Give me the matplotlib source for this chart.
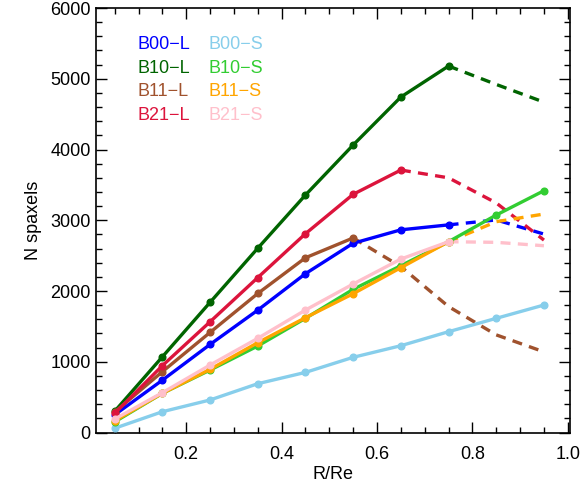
import numpy as np
import matplotlib.pyplot as plt
from matplotlib.ticker import MultipleLocator

plt.rcParams['font.family'] = ['Liberation Sans', 'DejaVu Sans']

# radial bins
r_bins = [0.05, 0.15, 0.25, 0.35, 0.45, 0.55, 0.65, 0.75, 0.85, 0.95]

# N spaxels per bin; solid part then dashed tail
b00_l = [250, 740, 1245, 1730, 2245, 2675, 2865, 2935, 3005, 2805]
b10_l = [300, 1070, 1840, 2605, 3357, 4064, 4742, 5180, 4920, 4670]
b11_l = [290, 860, 1415, 1965, 2470, 2750, 2345, 1780, 1380, 1140]
b21_l = [270, 945, 1565, 2190, 2810, 3367, 3710, 3600, 3245, 2720]
b00_s = [60, 294, 460, 690, 850, 1063, 1227, 1425, 1614, 1802]
b10_s = [150, 554, 883, 1223, 1614, 2024, 2358, 2697, 3074, 3418]
b11_s = [165, 554, 893, 1270, 1623, 1962, 2330, 2697, 2980, 3088]
b21_s = [190, 563, 954, 1331, 1731, 2099, 2452, 2697, 2688, 2640]

names = ["B00\u2212L", "B10\u2212L", "B11\u2212L", "B21\u2212L",
         "B00\u2212S", "B10\u2212S", "B11\u2212S", "B21\u2212S"]
series = [b00_l, b10_l, b11_l, b21_l, b00_s, b10_s, b11_s, b21_s]
colors = ["blue", "darkgreen", "sienna", "crimson",
          "skyblue", "limegreen", "orange", "pink"]
# number of bins drawn solid (the rest is dashed)
n_solid = [8, 8, 6, 7, 10, 10, 8, 8]

fig = plt.figure(figsize=(5.83, 4.93), dpi=100)
ax = fig.add_axes([0.164, 0.1227, 0.814, 0.861])

for vals, col, ns in zip(series, colors, n_solid):
    ax.plot(r_bins[:ns], vals[:ns], '-', color=col, lw=2.4,
            marker='o', ms=4.8, zorder=3)
    if ns < len(r_bins):
        ax.plot(r_bins[ns - 1:], vals[ns - 1:], '--', color=col, lw=2.4,
                dashes=(3, 2.2), zorder=2)

ax.set_xlim(0.01, 1.005)
ax.set_ylim(0, 6000)
ax.xaxis.set_major_locator(MultipleLocator(0.2))
ax.xaxis.set_minor_locator(MultipleLocator(0.05))
ax.yaxis.set_major_locator(MultipleLocator(1000))
ax.yaxis.set_minor_locator(MultipleLocator(200))
ax.tick_params(which='both', direction='in', top=True, right=True,
               labelsize=13, width=1.0)
ax.tick_params(which='major', length=8)
ax.tick_params(which='minor', length=4)
ax.set_xticks([0.2, 0.4, 0.6, 0.8, 1.0])
ax.set_xticklabels(["0.2", "0.4", "0.6", "0.8", "1.0"])
ax.tick_params(axis='x', pad=10)
for sp in ax.spines.values():
    sp.set_linewidth(1.2)

ax.set_xlabel("R/Re", fontsize=13, labelpad=2)
ax.set_ylabel("N spaxels", fontsize=13, labelpad=6)

# two-column text legend
for i, (nm, col) in enumerate(zip(names, colors)):
    colx = 0.088 if i < 4 else 0.238
    rowy = 0.913 - (i % 4) * 0.055
    ax.text(colx, rowy, nm, color=col, fontsize=13,
            transform=ax.transAxes, va='center', ha='left')

fig.savefig("out.png", dpi=100)
